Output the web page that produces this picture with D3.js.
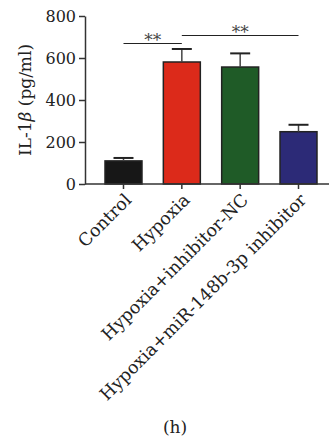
<!DOCTYPE html>
<html>
<head>
<meta charset="utf-8">
<script src="https://cdn.jsdelivr.net/npm/d3@7"></script>
<style>
  body { margin: 0; background: #fff; }
  svg { display: block; font-family: "DejaVu Serif", serif; }
</style>
</head>
<body>
<svg id="chart" width="330" height="443"></svg>
<script>
const groups = ["Control", "Hypoxia", "Hypoxia+inhibitor-NC", "Hypoxia+miR-148b-3p inhibitor"];
const means = [110, 581, 557, 249];
const errs = [14, 62, 65, 33];
const colors = ["#171717", "#dc2a1a", "#1f5b27", "#2c2a77"];
const yTicks = [0, 200, 400, 600, 800];
// significance brackets: [from index, to index, label]
const sig = [[0, 1, "**"], [1, 3, "**"]];

const svg = d3.select("#chart");
const axisX = 85, axisBottom = 184;

let x = d3.scaleBand()
    .domain(groups)
    .range([87.5, 334.5])
    .paddingInner(0.366)
    .paddingOuter(0.3);

let y = d3.scaleLinear()
    .domain([0, 800])
    .range([axisBottom, 16]);

// bars
svg.selectAll("rect.bar")
    .data(groups)
    .enter().append("rect")
    .attr("class", "bar")
    .attr("x", d => x(d))
    .attr("width", x.bandwidth())
    .attr("y", (d, i) => y(means[i]))
    .attr("height", (d, i) => y(0) - y(means[i]))
    .attr("fill", (d, i) => colors[i])
    .attr("stroke", "#222")
    .attr("stroke-width", 1.5);

// error bars
let eb = svg.selectAll("g.err")
    .data(groups)
    .enter().append("g")
    .attr("class", "err")
    .attr("transform", d => `translate(${x(d) + x.bandwidth() / 2},0)`);
eb.append("line")
    .attr("y1", (d, i) => y(means[i]))
    .attr("y2", (d, i) => y(means[i] + errs[i]))
    .attr("stroke", "#444")
    .attr("stroke-width", 1.5);
eb.append("line")
    .attr("x1", -10).attr("x2", 10)
    .attr("y1", (d, i) => y(means[i] + errs[i]))
    .attr("y2", (d, i) => y(means[i] + errs[i]))
    .attr("stroke", "#222")
    .attr("stroke-width", 2);

// y axis
let gy = svg.append("g")
    .attr("transform", `translate(${axisX},0)`)
    .call(d3.axisLeft(y).tickValues(yTicks).tickSize(6).tickPadding(3).tickSizeOuter(0));
gy.select(".domain").attr("stroke", "#333").attr("stroke-width", 1.5);
gy.selectAll(".tick line").attr("stroke", "#333").attr("stroke-width", 1.5);
gy.selectAll("text").attr("font-size", 16).attr("fill", "#222").attr("font-family", "DejaVu Serif");

// x axis
let gx = svg.append("g")
    .attr("transform", `translate(0,${axisBottom})`)
    .call(d3.axisBottom(x).tickSize(5).tickSizeOuter(0));
gx.select(".domain").remove();
gx.append("line")
    .attr("x1", axisX).attr("x2", 329)
    .attr("stroke", "#333").attr("stroke-width", 1.5);
gx.selectAll(".tick line").attr("stroke", "#333").attr("stroke-width", 1.5);
gx.selectAll("text")
    .attr("font-size", 17.5)
    .attr("fill", "#222")
    .attr("font-family", "DejaVu Serif")
    .attr("text-anchor", "end")
    .attr("x", 0).attr("y", 0).attr("dy", 0)
    .attr("transform", "translate(9,17) rotate(-45)");

// y label
svg.append("text")
    .attr("transform", "translate(31,100) rotate(-90)")
    .attr("text-anchor", "middle")
    .attr("font-size", 17)
    .attr("fill", "#222")
    .html('IL-1<tspan font-style="italic">β</tspan> (pg/ml)');

// significance
const sigY = [43.5, 35.5];
sig.forEach((s, k) => {
    let x1 = x(groups[s[0]]) + x.bandwidth() / 2;
    let x2 = x(groups[s[1]]) + x.bandwidth() / 2;
    svg.append("line")
        .attr("x1", x1).attr("x2", x2)
        .attr("y1", sigY[k]).attr("y2", sigY[k])
        .attr("stroke", "#222").attr("stroke-width", 1.2);
    svg.append("text")
        .attr("x", (x1 + x2) / 2)
        .attr("y", sigY[k] + 2)
        .attr("text-anchor", "middle")
        .attr("font-size", 17)
        .attr("fill", "#444")
        .text(s[2]);
});

// panel label
svg.append("text")
    .attr("x", 175).attr("y", 433)
    .attr("text-anchor", "middle")
    .attr("font-size", 17)
    .attr("fill", "#222")
    .text("(h)");
</script>
</body>
</html>
